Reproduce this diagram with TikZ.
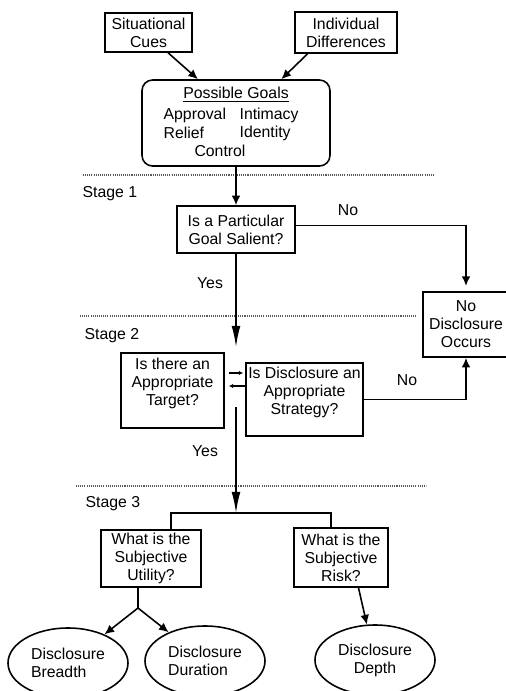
\documentclass[tikz,border=0pt]{standalone}
\usepackage{fontspec}
\setmainfont{Liberation Sans}
\usetikzlibrary{arrows.meta,shapes.geometric,calc}
\newdimen\pxu \pxu=0.02cm

\begin{document}
\begin{tikzpicture}
  [x=0.02cm, y=-0.02cm, line width=0.9pt,
   font=\fontsize{9pt}{10.2pt}\selectfont,
   box/.style={draw, align=center, inner sep=1pt},
   goal/.style={draw, rounded corners=6pt},
   oval/.style={draw, ellipse, minimum width=120\pxu, minimum height=70\pxu, inner sep=0pt},
   stage/.style={anchor=west},
   sep/.style={draw=black!65, line width=0.7pt, dash pattern=on 0.6pt off 0.6pt},
   arr/.style={-{Latex[length=5.5pt,width=5pt]}},
   longarr/.style={-{Latex[length=12pt,width=5pt]}},
   tinyarr/.style={-{Latex[length=2.5pt,width=2.5pt]}, line width=0.6pt}]
  \useasboundingbox (0,0) rectangle (506,691);

  % sources and goals
  \node[box, minimum width=87\pxu, minimum height=39\pxu] (sit) at (148.5,32.5) {Situational\\Cues};
  \node[box, minimum width=102\pxu, minimum height=41\pxu] (ind) at (346,32.5) {Individual\\Differences};
  \node[goal, minimum width=188\pxu, minimum height=86\pxu] (goals) at (236,123) {};
  \node (pg) at (236,95) {\underline{Possible Goals}};
  \node[anchor=west] (appr) at (157,115) {Approval};
  \node[anchor=west] (inti) at (233,115) {Intimacy};
  \node[anchor=west] (reli) at (157,133) {Relief};
  \node[anchor=west] (iden) at (233,133) {Identity};
  \node (ctrl) at (220,151) {Control};
  \draw[arr] (sit.-46) -- (goals.131.5);
  \draw[arr] (ind.-151.7) -- (goals.44.3);

  % stage separators
  \draw[sep] (83,175) -- (435,175);
  \draw[sep] (80,316) -- (417,316);
  \draw[sep] (76,486) -- (426,486);
  \node[stage] (st1) at (76,194) {Stage 1};
  \node[stage] (st2) at (78,336) {Stage 2};
  \node[stage] (st3) at (79,504) {Stage 3};

  % stage 1
  \node[box, minimum width=118\pxu, minimum height=47\pxu] (partic) at (236,229.5) {Is a Particular\\Goal Salient?};
  \draw[arr] (goals) -- (partic);
  \node[box, minimum width=86\pxu, minimum height=65\pxu] (nodis) at (466,324.5) {No\\Disclosure\\Occurs};
  \draw[arr, shorten >=3pt] ($(partic.east)+(0,-4)$) -| (nodis.north);
  \node (no1) at (348,210) {No};
  \coordinate (yes1end) at (236,347);
  \draw[longarr] (partic) -- (yes1end);
  \node (yes1) at (210,283) {Yes};

  % stage 2
  \node[box, minimum width=103\pxu, minimum height=75\pxu] (target) at (172.5,390.5) {Is there an\\Appropriate\\Target?\\\mbox{}};
  \node[box, minimum width=117\pxu, minimum height=73\pxu] (strat) at (304.5,399.5) {Is Disclosure an\\Appropriate\\Strategy?\\\mbox{}};
  \draw[tinyarr] ($(target.east)+(4,-17.5)$) -- ($(strat.west)+(-2,-26.5)$);
  \draw[tinyarr] ($(strat.west)+(0,-13.5)$) -- ($(target.east)+(4,-4.5)$);
  \draw[arr] (strat.east) -| (nodis.south);
  \node (no2) at (407,380) {No};
  \coordinate (yes2start) at (236,407);
  \coordinate (brc) at (236,513);
  \draw[longarr] (yes2start) -- (brc);
  \node (yes2) at (205,451) {Yes};

  % stage 3
  \node[box, minimum width=100\pxu, minimum height=57\pxu] (util) at (151,558.5) {What is the\\Subjective\\Utility?};
  \node[box, minimum width=94\pxu, minimum height=59\pxu] (risk) at (341,557.5) {What is the\\Subjective\\Risk?};
  \coordinate (brl) at (171,513);
  \coordinate (brr) at (331,513);
  \draw (brl |- util.north) -- (brl) -- (brr) -- (brr |- risk.north);
  \node[oval, align=left] (breadth) at (68,663) {Disclosure\\Breadth};
  \node[oval, align=left] (durat) at (205,661) {Disclosure\\Duration};
  \node[oval, align=center] (depth) at (375,660) {Disclosure\\Depth};
  \coordinate (fork) at (138,608);
  \draw (fork |- util.south) -- (fork);
  \draw[arr] (fork) -- (breadth);
  \draw[arr] (fork) -- (durat);
  \draw[arr] (risk.-60) -- (depth);
\end{tikzpicture}
\end{document}
